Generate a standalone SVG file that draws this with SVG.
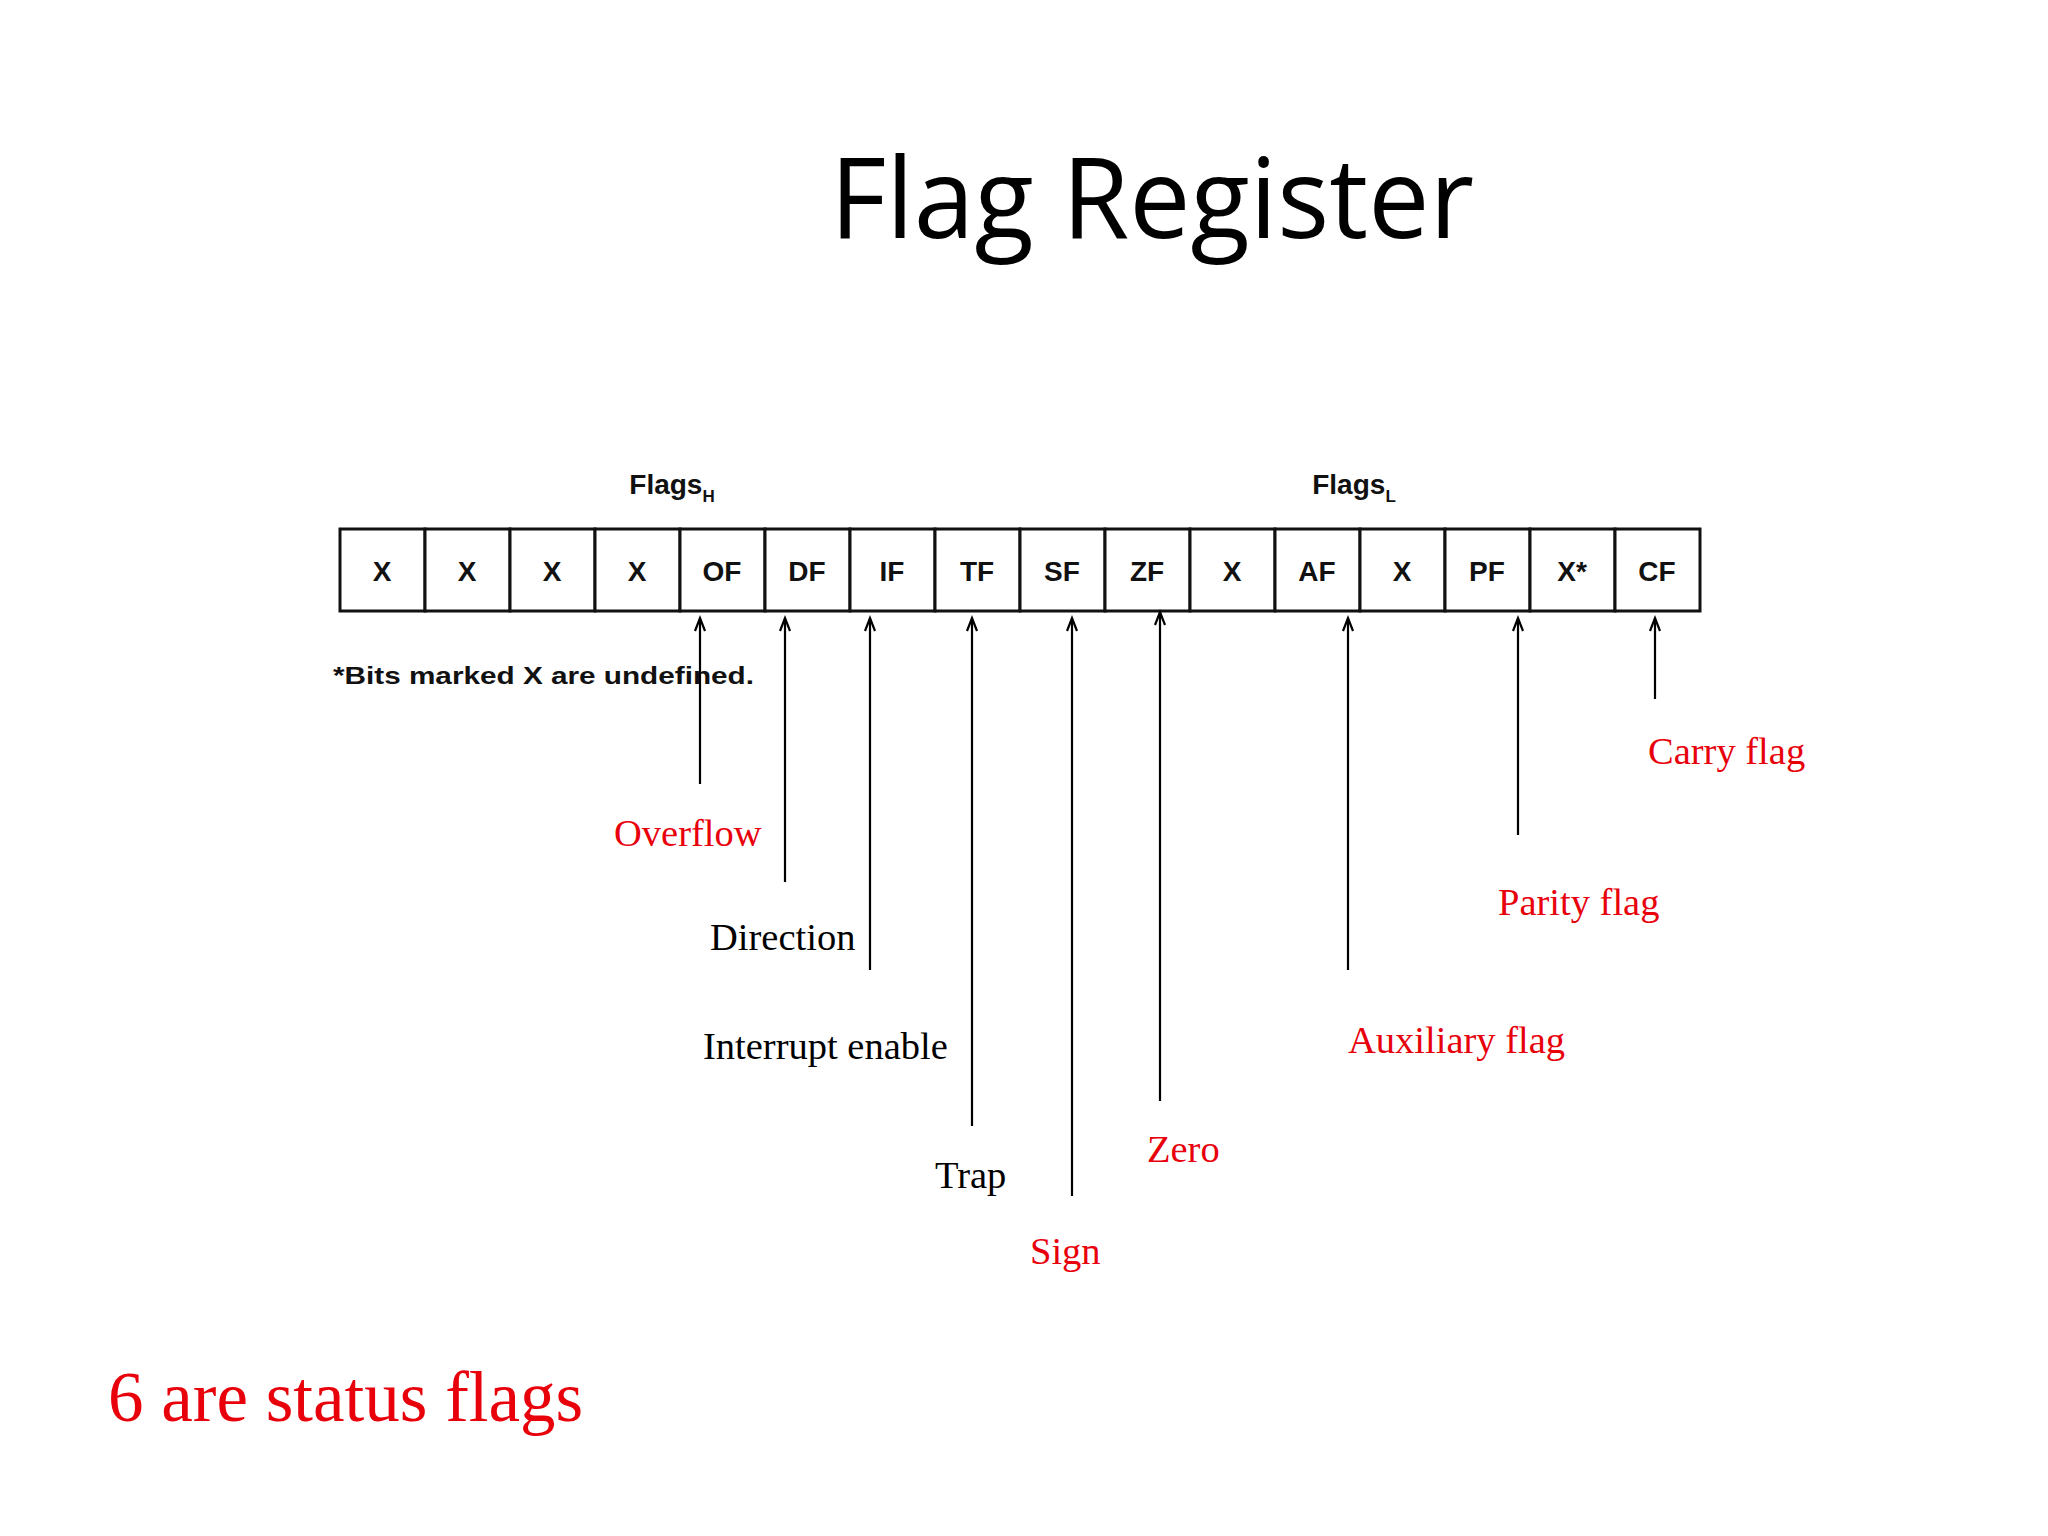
<svg xmlns="http://www.w3.org/2000/svg" width="2048" height="1536" viewBox="0 0 2048 1536">
<defs>
<path id="ah" d="M-5,13 L0,0 L5,13" fill="none" stroke="#000" stroke-width="2.2"/>
</defs>
<style>
.c{fill:#fff;stroke:#111;stroke-width:3}
.ct{font-family:"Liberation Sans",Arial,sans-serif;font-weight:bold;font-size:28px;text-anchor:middle;fill:#111}
.lb{font-family:"Liberation Serif","Times New Roman",serif;font-size:38.5px}
.r{fill:#e8000b}.k{fill:#000}
.ar{stroke:#000;stroke-width:2.2;fill:none}
</style>
<rect width="2048" height="1536" fill="#fff"/>
<text x="1152" y="238" font-family="'Open Sans','Noto Sans',sans-serif" font-size="112" textLength="644" lengthAdjust="spacingAndGlyphs" text-anchor="middle" fill="#000">Flag Register</text>
<g id="register">
<text x="672" y="494" class="ct" font-size="25">Flags<tspan font-size="17" dy="8">H</tspan></text>
<text x="1354" y="494" class="ct" font-size="25">Flags<tspan font-size="17" dy="8">L</tspan></text>
<g id="cells">
<rect class="c" x="340" y="529" width="85" height="82"/><text class="ct" x="382" y="581">X</text>
<rect class="c" x="425" y="529" width="85" height="82"/><text class="ct" x="467" y="581">X</text>
<rect class="c" x="510" y="529" width="85" height="82"/><text class="ct" x="552" y="581">X</text>
<rect class="c" x="595" y="529" width="85" height="82"/><text class="ct" x="637" y="581">X</text>
<rect class="c" x="680" y="529" width="85" height="82"/><text class="ct" x="722" y="581">OF</text>
<rect class="c" x="765" y="529" width="85" height="82"/><text class="ct" x="807" y="581">DF</text>
<rect class="c" x="850" y="529" width="85" height="82"/><text class="ct" x="892" y="581">IF</text>
<rect class="c" x="935" y="529" width="85" height="82"/><text class="ct" x="977" y="581">TF</text>
<rect class="c" x="1020" y="529" width="85" height="82"/><text class="ct" x="1062" y="581">SF</text>
<rect class="c" x="1105" y="529" width="85" height="82"/><text class="ct" x="1147" y="581">ZF</text>
<rect class="c" x="1190" y="529" width="85" height="82"/><text class="ct" x="1232" y="581">X</text>
<rect class="c" x="1275" y="529" width="85" height="82"/><text class="ct" x="1317" y="581">AF</text>
<rect class="c" x="1360" y="529" width="85" height="82"/><text class="ct" x="1402" y="581">X</text>
<rect class="c" x="1445" y="529" width="85" height="82"/><text class="ct" x="1487" y="581">PF</text>
<rect class="c" x="1530" y="529" width="85" height="82"/><text class="ct" x="1572" y="581">X*</text>
<rect class="c" x="1615" y="529" width="85" height="82"/><text class="ct" x="1657" y="581">CF</text>
</g>
<text x="333" y="684" font-family="'Liberation Sans',Arial,sans-serif" font-weight="bold" font-size="24" textLength="421" lengthAdjust="spacingAndGlyphs" fill="#111">*Bits marked X are undefined.</text>
</g>
<g id="connectors">
<line class="ar" x1="700" y1="618" x2="700" y2="784"/><use href="#ah" x="700" y="618"/>
<line class="ar" x1="785" y1="618" x2="785" y2="882"/><use href="#ah" x="785" y="618"/>
<line class="ar" x1="870" y1="618" x2="870" y2="970"/><use href="#ah" x="870" y="618"/>
<line class="ar" x1="972" y1="618" x2="972" y2="1126"/><use href="#ah" x="972" y="618"/>
<line class="ar" x1="1072" y1="618" x2="1072" y2="1196"/><use href="#ah" x="1072" y="618"/>
<line class="ar" x1="1160" y1="612" x2="1160" y2="1101"/><use href="#ah" x="1160" y="612"/>
<line class="ar" x1="1348" y1="618" x2="1348" y2="970"/><use href="#ah" x="1348" y="618"/>
<line class="ar" x1="1518" y1="618" x2="1518" y2="835"/><use href="#ah" x="1518" y="618"/>
<line class="ar" x1="1655" y1="618" x2="1655" y2="699"/><use href="#ah" x="1655" y="618"/>
</g>
<g id="labels">
<text class="lb r" x="614" y="846">Overflow</text>
<text class="lb k" x="710" y="950">Direction</text>
<text class="lb k" x="703" y="1059">Interrupt enable</text>
<text class="lb k" x="935" y="1188">Trap</text>
<text class="lb r" x="1030" y="1264">Sign</text>
<text class="lb r" x="1147" y="1162">Zero</text>
<text class="lb r" x="1348" y="1053">Auxiliary flag</text>
<text class="lb r" x="1498" y="915">Parity flag</text>
<text class="lb r" x="1648" y="764">Carry flag</text>
</g>
<text x="108" y="1421" font-family="'Liberation Serif','Times New Roman',serif" font-size="71" fill="#e8000b">6 are status flags</text>
</svg>
